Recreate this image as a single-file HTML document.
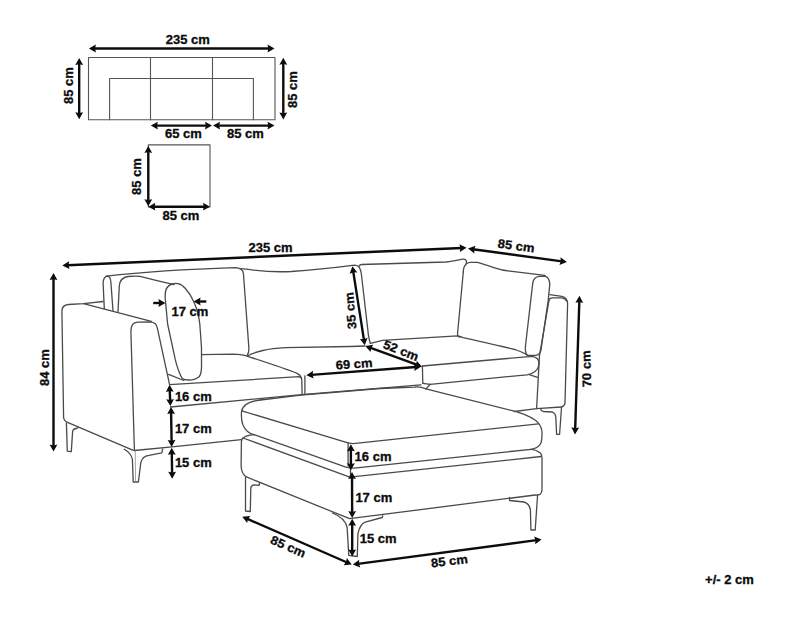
<!DOCTYPE html><html><head><meta charset="utf-8"><style>
html,body{margin:0;padding:0;background:#fff;}
svg{display:block;}
text{stroke:#0c0c0c;stroke-width:0.3px;font-family:"Liberation Sans",sans-serif;font-weight:bold;fill:#0c0c0c;}
</style></head><body>
<svg width="790" height="619" viewBox="0 0 790 619">
<path d="M88.5 57.5 H275 V119.8 H88.5 Z" fill="none" stroke="#555" stroke-width="1.1" stroke-linecap="round" stroke-linejoin="round"/>
<path d="M150.5 57.5 V119.8 M212.5 57.5 V119.8" fill="none" stroke="#555" stroke-width="1.1" stroke-linecap="round" stroke-linejoin="round"/>
<path d="M109.6 119.8 V78.5 H253.4 V119.8" fill="none" stroke="#555" stroke-width="1.1" stroke-linecap="round" stroke-linejoin="round"/>
<line x1="93.90" y1="48.50" x2="269.50" y2="48.50" stroke="#0c0c0c" stroke-width="2.4"/>
<polygon points="274.50,48.50 267.50,52.40 268.30,48.50 267.50,44.60" fill="#0c0c0c"/>
<polygon points="88.90,48.50 95.90,44.60 95.10,48.50 95.90,52.40" fill="#0c0c0c"/>
<text x="187.8" y="43.9" text-anchor="middle" font-size="12.40" textLength="44.08" lengthAdjust="spacingAndGlyphs">235 cm</text>
<line x1="79.20" y1="63.00" x2="79.20" y2="114.30" stroke="#0c0c0c" stroke-width="2.4"/>
<polygon points="79.20,119.30 75.30,112.30 79.20,113.10 83.10,112.30" fill="#0c0c0c"/>
<polygon points="79.20,58.00 83.10,65.00 79.20,64.20 75.30,65.00" fill="#0c0c0c"/>
<text x="72.9" y="85.6" text-anchor="middle" font-size="12.40" textLength="36.85" lengthAdjust="spacingAndGlyphs" transform="rotate(-90 72.9 85.6)">85 cm</text>
<line x1="283.30" y1="62.70" x2="283.30" y2="114.40" stroke="#0c0c0c" stroke-width="2.4"/>
<polygon points="283.30,119.40 279.40,112.40 283.30,113.20 287.20,112.40" fill="#0c0c0c"/>
<polygon points="283.30,57.70 287.20,64.70 283.30,63.90 279.40,64.70" fill="#0c0c0c"/>
<text x="297.1" y="89.6" text-anchor="middle" font-size="12.40" textLength="36.85" lengthAdjust="spacingAndGlyphs" transform="rotate(-90 297.1 89.6)">85 cm</text>
<line x1="155.80" y1="125.60" x2="207.00" y2="125.60" stroke="#0c0c0c" stroke-width="2.4"/>
<polygon points="212.00,125.60 205.00,129.50 205.80,125.60 205.00,121.70" fill="#0c0c0c"/>
<polygon points="150.80,125.60 157.80,121.70 157.00,125.60 157.80,129.50" fill="#0c0c0c"/>
<text x="183.5" y="137.7" text-anchor="middle" font-size="12.40" textLength="36.85" lengthAdjust="spacingAndGlyphs">65 cm</text>
<line x1="218.00" y1="125.60" x2="269.50" y2="125.60" stroke="#0c0c0c" stroke-width="2.4"/>
<polygon points="274.50,125.60 267.50,129.50 268.30,125.60 267.50,121.70" fill="#0c0c0c"/>
<polygon points="213.00,125.60 220.00,121.70 219.20,125.60 220.00,129.50" fill="#0c0c0c"/>
<text x="245.4" y="137.9" text-anchor="middle" font-size="12.40" textLength="36.85" lengthAdjust="spacingAndGlyphs">85 cm</text>
<path d="M148.3 144.9 H210 V207 H148.3 Z" fill="none" stroke="#555" stroke-width="1.1" stroke-linecap="round" stroke-linejoin="round"/>
<line x1="148.30" y1="150.90" x2="148.30" y2="201.20" stroke="#0c0c0c" stroke-width="2.4"/>
<polygon points="148.30,206.20 144.40,199.20 148.30,200.00 152.20,199.20" fill="#0c0c0c"/>
<polygon points="148.30,145.90 152.20,152.90 148.30,152.10 144.40,152.90" fill="#0c0c0c"/>
<text x="141.3" y="176.5" text-anchor="middle" font-size="12.40" textLength="36.85" lengthAdjust="spacingAndGlyphs" transform="rotate(-90 141.3 176.5)">85 cm</text>
<line x1="153.30" y1="206.70" x2="205.00" y2="206.70" stroke="#0c0c0c" stroke-width="2.4"/>
<polygon points="210.00,206.70 203.00,210.60 203.80,206.70 203.00,202.80" fill="#0c0c0c"/>
<polygon points="148.30,206.70 155.30,202.80 154.50,206.70 155.30,210.60" fill="#0c0c0c"/>
<text x="180.9" y="220" text-anchor="middle" font-size="12.40" textLength="36.85" lengthAdjust="spacingAndGlyphs">85 cm</text>
<line x1="67.30" y1="265.18" x2="461.60" y2="248.02" stroke="#0c0c0c" stroke-width="2.4"/>
<polygon points="466.60,247.80 459.78,252.00 460.41,248.07 459.44,244.21" fill="#0c0c0c"/>
<polygon points="62.30,265.40 69.12,261.20 68.49,265.13 69.46,268.99" fill="#0c0c0c"/>
<text x="270.5" y="252.2" text-anchor="middle" font-size="12.40" textLength="44.08" lengthAdjust="spacingAndGlyphs">235 cm</text>
<line x1="472.95" y1="249.27" x2="561.95" y2="261.33" stroke="#0c0c0c" stroke-width="2.4"/>
<polygon points="566.90,262.00 559.44,264.92 560.76,261.17 560.49,257.20" fill="#0c0c0c"/>
<polygon points="468.00,248.60 475.46,245.68 474.14,249.43 474.41,253.40" fill="#0c0c0c"/>
<text x="515.6" y="250.1" text-anchor="middle" font-size="12.40" textLength="36.85" lengthAdjust="spacingAndGlyphs" transform="rotate(7.7 515.6 250.1)">85 cm</text>
<line x1="53.50" y1="278.10" x2="53.50" y2="446.60" stroke="#0c0c0c" stroke-width="2.4"/>
<polygon points="53.50,451.60 49.60,444.60 53.50,445.40 57.40,444.60" fill="#0c0c0c"/>
<polygon points="53.50,273.10 57.40,280.10 53.50,279.30 49.60,280.10" fill="#0c0c0c"/>
<text x="48.8" y="367.6" text-anchor="middle" font-size="12.40" textLength="36.85" lengthAdjust="spacingAndGlyphs" transform="rotate(-90 48.8 367.6)">84 cm</text>
<line x1="579.34" y1="300.80" x2="575.16" y2="429.40" stroke="#0c0c0c" stroke-width="2.4"/>
<polygon points="575.00,434.40 571.33,427.28 575.20,428.20 579.13,427.53" fill="#0c0c0c"/>
<polygon points="579.50,295.80 583.17,302.92 579.30,302.00 575.37,302.67" fill="#0c0c0c"/>
<text x="590.7" y="368.7" text-anchor="middle" font-size="12.40" textLength="36.85" lengthAdjust="spacingAndGlyphs" transform="rotate(-92 590.7 368.7)">70 cm</text>
<path d="M103.1 301.5 L83.5 303.6 L68.4 304.5 Q62 305 61.9 311 L63.6 417.5 Q64 421 67.5 422.3 L133.3 450.3" fill="none" stroke="#4a4a4a" stroke-width="1.3" stroke-linecap="round" stroke-linejoin="round"/>
<path d="M83.5 303.6 L151.4 321.3" fill="none" stroke="#4a4a4a" stroke-width="1.3" stroke-linecap="round" stroke-linejoin="round"/>
<path d="M134.4 450.5 L130.9 331 Q131 322.6 137.5 322.2 L150.4 321.9 Q156.5 322.5 157.4 328.3 L169.6 384.6" fill="none" stroke="#4a4a4a" stroke-width="1.3" stroke-linecap="round" stroke-linejoin="round"/>
<path d="M134.4 450.5 L172 446.8 L241.4 439.6" fill="none" stroke="#4a4a4a" stroke-width="1.3" stroke-linecap="round" stroke-linejoin="round"/>
<path d="M66.4 422.8 L67.3 451.2 L71.3 451.6 L72.6 431.6 Q73 428.8 76.6 428.5 L78 427.6" fill="none" stroke="#4a4a4a" stroke-width="1.3" stroke-linecap="round" stroke-linejoin="round"/>
<path d="M124.3 449.3 Q131 453 132.4 459.4 L133.2 482 L138.4 482 L140.8 462.6 Q142.5 456 148.9 455.3 L161.8 452.9 L162.7 448.9" fill="none" stroke="#4a4a4a" stroke-width="1.3" stroke-linecap="round" stroke-linejoin="round"/>
<path d="M135.3 451 L135.5 481.5" fill="none" stroke="#999" stroke-width="0.9" stroke-linecap="round" stroke-linejoin="round"/>
<path d="M104.3 308.6 L103.1 283 Q103.5 276.5 107.5 276.2 Q110.5 276.5 110.9 282.3 L113 311" fill="none" stroke="#4a4a4a" stroke-width="1.3" stroke-linecap="round" stroke-linejoin="round"/>
<path d="M106.1 276.2 Q160 270 235.3 267.7 Q242.5 268 243.4 273.2 L248.9 348.4 Q249 353 247 355.6" fill="none" stroke="#4a4a4a" stroke-width="1.3" stroke-linecap="round" stroke-linejoin="round"/>
<path d="M118 311.6 L119.3 286 Q120 277.5 128 276.5 Q135 275.8 140 276.3 L157 280.6 L174 284.6" fill="none" stroke="#4a4a4a" stroke-width="1.3" stroke-linecap="round" stroke-linejoin="round"/>
<path d="M165.1 297 Q164.8 286 172 284 Q175 283.2 178 283.6 Q182 284.3 185.4 288.5 Q190.5 294 193.9 302 Q198.5 312 199.8 324 L201.5 347.8 L201.5 368.1 Q201 376 198.1 377.5 Q194 380.5 188.8 380 Q184 380 182 378.3 Q178 371 175.3 359.7 L167.6 324 Z" fill="none" stroke="#4a4a4a" stroke-width="1.3" stroke-linecap="round" stroke-linejoin="round"/>
<path d="M240.8 268.7 Q246 269 250.4 269.7 C260 271 270 272.5 291.3 271.5 Q320 269.5 354.7 265.1 Q357.5 265.2 359.2 267.2 Q360.6 269.5 361.3 273.5 L368.5 335.6 Q369.5 341 370.4 343.4" fill="none" stroke="#4a4a4a" stroke-width="1.3" stroke-linecap="round" stroke-linejoin="round"/>
<path d="M358.7 266.6 Q359.5 264.6 361.5 264.5 Q420 262.8 446 262 Q456 261 462.5 259.2 Q466.3 258.6 466.6 262 Q466.5 264.5 464.4 266.2 Q463.4 268.5 463.3 272" fill="none" stroke="#4a4a4a" stroke-width="1.3" stroke-linecap="round" stroke-linejoin="round"/>
<path d="M463.3 272 L457.5 334 Q458 337 459.9 337.2" fill="none" stroke="#4a4a4a" stroke-width="1.3" stroke-linecap="round" stroke-linejoin="round"/>
<path d="M466.4 263.6 Q468.5 262.4 470.5 262.3 L477.3 262.4 Q482 263.5 494.6 267.8 Q502 270.3 510 271.2 L544.9 275.3" fill="none" stroke="#4a4a4a" stroke-width="1.3" stroke-linecap="round" stroke-linejoin="round"/>
<path d="M532.8 282.6 Q534 277 539 276.3 L544.9 276.1 Q549.5 277.5 549.8 284 L548.2 300.4 L540.9 350.5 Q539.5 355 536 355.4 L527.1 355.4 Q524.8 352 525.5 345.7 Z" fill="none" stroke="#4a4a4a" stroke-width="1.3" stroke-linecap="round" stroke-linejoin="round"/>
<path d="M549.8 294.7 L561.9 296.3 Q567.5 297.5 567.6 303.6 L565 403 Q564.5 406.5 561.5 407" fill="none" stroke="#4a4a4a" stroke-width="1.3" stroke-linecap="round" stroke-linejoin="round"/>
<path d="M549 300.4 Q549.5 297.9 552.2 297.9 L561.9 297.9 Q565.5 298.5 566.5 301" fill="none" stroke="#4a4a4a" stroke-width="1.3" stroke-linecap="round" stroke-linejoin="round"/>
<path d="M549 300.4 L539.5 355.4 L536.6 408.7" fill="none" stroke="#4a4a4a" stroke-width="1.3" stroke-linecap="round" stroke-linejoin="round"/>
<path d="M514.4 411.5 L536.6 408.7 L561.5 407" fill="none" stroke="#4a4a4a" stroke-width="1.3" stroke-linecap="round" stroke-linejoin="round"/>
<path d="M540.7 409.1 Q541 411.2 543.5 411.5 L552.5 412 Q555.5 413.5 555.8 417 L556.6 434.3 L559.6 434.3 L561.5 407.5" fill="none" stroke="#4a4a4a" stroke-width="1.3" stroke-linecap="round" stroke-linejoin="round"/>
<path d="M168.6 374.4 L183.8 380.5" fill="none" stroke="#4a4a4a" stroke-width="1.3" stroke-linecap="round" stroke-linejoin="round"/>
<path d="M201.5 354.7 L232.9 354.2 Q243 354.5 249.1 356.8 C262 361 285 368.5 297 373.3 Q301.5 375.5 301.8 380 L302.1 394.5" fill="none" stroke="#4a4a4a" stroke-width="1.3" stroke-linecap="round" stroke-linejoin="round"/>
<path d="M169.6 384.6 L299.2 376.7 L301.3 377.8" fill="none" stroke="#4a4a4a" stroke-width="1.3" stroke-linecap="round" stroke-linejoin="round"/>
<path d="M170.4 407 L301.4 394.7 L421 384.9" fill="none" stroke="#4a4a4a" stroke-width="1.3" stroke-linecap="round" stroke-linejoin="round"/>
<path d="M304.9 375.8 L304.9 394.2" fill="none" stroke="#4a4a4a" stroke-width="1.3" stroke-linecap="round" stroke-linejoin="round"/>
<path d="M247.5 356 Q252 353 262.8 350.5 Q272 348.5 285.6 347.7 L350 346.5 L365 346" fill="none" stroke="#4a4a4a" stroke-width="1.3" stroke-linecap="round" stroke-linejoin="round"/>
<path d="M370.4 343.4 L382.5 340.4 L457.4 335.9 Q461 336.5 463 337.6 Q505 347 515 349.5 Q521 351.5 527 354.6" fill="none" stroke="#4a4a4a" stroke-width="1.3" stroke-linecap="round" stroke-linejoin="round"/>
<path d="M422.4 366 L422.8 383.3" fill="none" stroke="#4a4a4a" stroke-width="1.3" stroke-linecap="round" stroke-linejoin="round"/>
<path d="M422.4 366 L532.3 356.3 Q538.6 357.5 538.9 362.5 Q538.8 369 535 371.5 Q532 374 527 374.8 L430.2 384.3 L422.8 383.3" fill="none" stroke="#4a4a4a" stroke-width="1.3" stroke-linecap="round" stroke-linejoin="round"/>
<path d="M426 388.9 L430.2 384.3" fill="none" stroke="#4a4a4a" stroke-width="1.3" stroke-linecap="round" stroke-linejoin="round"/>
<path d="M529.2 374.6 L537.6 377.3" fill="none" stroke="#4a4a4a" stroke-width="1.3" stroke-linecap="round" stroke-linejoin="round"/>
<path d="M260.4 400 L301 395.2 L380 388.5 L415 387 Q421 386.6 426 388.9 L516.3 411.7 Q533 417 538.4 423.1 Q542.5 428 542 434.7 Q541.8 443 539.8 444.9 Q537 448.5 531.1 449.3" fill="none" stroke="#4a4a4a" stroke-width="1.3" stroke-linecap="round" stroke-linejoin="round"/>
<path d="M260.4 400 Q242.5 402 241.5 412 Q240.5 426 247.6 431.5 Q250.5 434 254.1 434.7" fill="none" stroke="#4a4a4a" stroke-width="1.3" stroke-linecap="round" stroke-linejoin="round"/>
<path d="M241.8 410.8 L345.5 442.2 Q349 443.4 353.2 443.6 L538.4 423.8" fill="none" stroke="#4a4a4a" stroke-width="1.3" stroke-linecap="round" stroke-linejoin="round"/>
<path d="M348.1 443 L348.1 466" fill="none" stroke="#4a4a4a" stroke-width="1.3" stroke-linecap="round" stroke-linejoin="round"/>
<path d="M254.1 434.7 L345.2 466.8 Q349 468.2 354.3 468.2 L531.1 449.3" fill="none" stroke="#4a4a4a" stroke-width="1.3" stroke-linecap="round" stroke-linejoin="round"/>
<path d="M254.1 434.7 Q245.7 435.4 242.5 438.5 Q241.4 440 241.4 442 L241.1 466 Q241.5 474.5 247 477.2 L349.6 518.7 L535.2 495 Q538.4 495.5 540.5 494 Q542 492.5 542 489 L542 458 Q541.5 453 539.1 452.2 Q536 449.6 531.1 449.3" fill="none" stroke="#4a4a4a" stroke-width="1.3" stroke-linecap="round" stroke-linejoin="round"/>
<path d="M243.1 438 L349.8 477.2 L541.3 456.5" fill="none" stroke="#4a4a4a" stroke-width="1.3" stroke-linecap="round" stroke-linejoin="round"/>
<path d="M350.5 468 L350.5 477" fill="none" stroke="#4a4a4a" stroke-width="1.3" stroke-linecap="round" stroke-linejoin="round"/>
<path d="M245.5 477.5 L245.5 511 L250.3 511.5 L250.8 488 Q251.5 485 254 484.9 L259.1 485.3 L259.6 482.9" fill="none" stroke="#4a4a4a" stroke-width="1.3" stroke-linecap="round" stroke-linejoin="round"/>
<path d="M332.4 513 Q345 518 347.1 527.1 L348.8 555.4 L357.3 556.5 L357.9 533.9 Q360 524 365.2 522.1 L382.2 517.5 L382.8 515.8" fill="none" stroke="#4a4a4a" stroke-width="1.3" stroke-linecap="round" stroke-linejoin="round"/>
<path d="M509.5 497.3 L509.6 500.5 L524.1 502 Q529.5 503.5 530.4 510.2 L530.9 530 L535.2 530 L537.6 494.7" fill="none" stroke="#4a4a4a" stroke-width="1.3" stroke-linecap="round" stroke-linejoin="round"/>
<line x1="169.71" y1="389.80" x2="170.19" y2="401.10" stroke="#0c0c0c" stroke-width="2.4"/>
<polygon points="170.40,406.10 166.21,399.27 170.14,399.91 174.00,398.94" fill="#0c0c0c"/>
<polygon points="169.50,384.80 173.69,391.63 169.76,390.99 165.90,391.96" fill="#0c0c0c"/>
<text x="174.9" y="400.8" text-anchor="start" font-size="12.40" textLength="36.85" lengthAdjust="spacingAndGlyphs">16 cm</text>
<line x1="171.09" y1="412.00" x2="171.61" y2="441.90" stroke="#0c0c0c" stroke-width="2.4"/>
<polygon points="171.70,446.90 167.68,439.97 171.59,440.70 175.48,439.83" fill="#0c0c0c"/>
<polygon points="171.00,407.00 175.02,413.93 171.11,413.20 167.22,414.07" fill="#0c0c0c"/>
<text x="174.9" y="432.7" text-anchor="start" font-size="12.40" textLength="36.85" lengthAdjust="spacingAndGlyphs">17 cm</text>
<line x1="171.78" y1="452.80" x2="172.12" y2="473.80" stroke="#0c0c0c" stroke-width="2.4"/>
<polygon points="172.20,478.80 168.19,471.86 172.10,472.60 175.99,471.74" fill="#0c0c0c"/>
<polygon points="171.70,447.80 175.71,454.74 171.80,454.00 167.91,454.86" fill="#0c0c0c"/>
<text x="174.9" y="467.4" text-anchor="start" font-size="12.40" textLength="36.85" lengthAdjust="spacingAndGlyphs">15 cm</text>
<line x1="353.17" y1="271.14" x2="364.03" y2="340.36" stroke="#0c0c0c" stroke-width="2.4"/>
<polygon points="364.80,345.30 359.86,338.99 363.84,339.17 367.57,337.78" fill="#0c0c0c"/>
<polygon points="352.40,266.20 357.34,272.51 353.36,272.33 349.63,273.72" fill="#0c0c0c"/>
<text x="354.8" y="310.4" text-anchor="middle" font-size="12.40" textLength="36.85" lengthAdjust="spacingAndGlyphs" transform="rotate(-95 354.8 310.4)">35 cm</text>
<line x1="370.00" y1="347.71" x2="417.30" y2="364.99" stroke="#0c0c0c" stroke-width="2.4"/>
<polygon points="422.00,366.70 414.09,367.96 416.18,364.57 416.76,360.64" fill="#0c0c0c"/>
<polygon points="365.30,346.00 373.21,344.74 371.12,348.13 370.54,352.06" fill="#0c0c0c"/>
<text x="399.5" y="354.5" text-anchor="middle" font-size="12.40" textLength="36.85" lengthAdjust="spacingAndGlyphs" transform="rotate(21.6 399.5 354.5)">52 cm</text>
<line x1="311.39" y1="374.83" x2="416.01" y2="367.07" stroke="#0c0c0c" stroke-width="2.4"/>
<polygon points="421.00,366.70 414.31,371.11 414.82,367.16 413.73,363.33" fill="#0c0c0c"/>
<polygon points="306.40,375.20 313.09,370.79 312.58,374.74 313.67,378.57" fill="#0c0c0c"/>
<text x="354.5" y="368.2" text-anchor="middle" font-size="12.40" textLength="36.85" lengthAdjust="spacingAndGlyphs" transform="rotate(-4 354.5 368.2)">69 cm</text>
<line x1="153.20" y1="303.00" x2="160.40" y2="303.00" stroke="#0c0c0c" stroke-width="2.4"/>
<polygon points="165.40,303.00 158.40,306.90 159.20,303.00 158.40,299.10" fill="#0c0c0c"/>
<line x1="206.30" y1="301.50" x2="198.60" y2="301.50" stroke="#0c0c0c" stroke-width="2.4"/>
<polygon points="193.60,301.50 200.60,297.60 199.80,301.50 200.60,305.40" fill="#0c0c0c"/>
<text x="190" y="316.4" text-anchor="middle" font-size="12.40" textLength="36.85" lengthAdjust="spacingAndGlyphs">17 cm</text>
<line x1="350.90" y1="449.30" x2="350.90" y2="465.30" stroke="#0c0c0c" stroke-width="2.4"/>
<polygon points="350.90,470.30 347.00,463.30 350.90,464.10 354.80,463.30" fill="#0c0c0c"/>
<polygon points="350.90,444.30 354.80,451.30 350.90,450.50 347.00,451.30" fill="#0c0c0c"/>
<text x="354.6" y="460.6" text-anchor="start" font-size="12.40" textLength="36.85" lengthAdjust="spacingAndGlyphs">16 cm</text>
<line x1="352.02" y1="477.00" x2="352.18" y2="513.10" stroke="#0c0c0c" stroke-width="2.4"/>
<polygon points="352.20,518.10 348.27,511.12 352.17,511.90 356.07,511.08" fill="#0c0c0c"/>
<polygon points="352.00,472.00 355.93,478.98 352.03,478.20 348.13,479.02" fill="#0c0c0c"/>
<text x="355.4" y="502" text-anchor="start" font-size="12.40" textLength="36.85" lengthAdjust="spacingAndGlyphs">17 cm</text>
<line x1="352.20" y1="523.70" x2="352.20" y2="551.50" stroke="#0c0c0c" stroke-width="2.4"/>
<polygon points="352.20,556.50 348.30,549.50 352.20,550.30 356.10,549.50" fill="#0c0c0c"/>
<polygon points="352.20,518.70 356.10,525.70 352.20,524.90 348.30,525.70" fill="#0c0c0c"/>
<text x="359.8" y="543.2" text-anchor="start" font-size="12.40" textLength="36.85" lengthAdjust="spacingAndGlyphs">15 cm</text>
<line x1="246.88" y1="518.70" x2="347.12" y2="562.50" stroke="#0c0c0c" stroke-width="2.4"/>
<polygon points="351.70,564.50 343.72,565.27 346.02,562.02 346.85,558.12" fill="#0c0c0c"/>
<polygon points="242.30,516.70 250.28,515.93 247.98,519.18 247.15,523.08" fill="#0c0c0c"/>
<text x="286.5" y="550.5" text-anchor="middle" font-size="12.40" textLength="36.85" lengthAdjust="spacingAndGlyphs" transform="rotate(23.6 286.5 550.5)">85 cm</text>
<line x1="357.76" y1="563.84" x2="536.64" y2="540.16" stroke="#0c0c0c" stroke-width="2.4"/>
<polygon points="541.60,539.50 535.17,544.29 535.45,540.31 534.15,536.55" fill="#0c0c0c"/>
<polygon points="352.80,564.50 359.23,559.71 358.95,563.69 360.25,567.45" fill="#0c0c0c"/>
<text x="449.9" y="565.3" text-anchor="middle" font-size="12.40" textLength="36.85" lengthAdjust="spacingAndGlyphs" transform="rotate(-6.8 449.9 565.3)">85 cm</text>
<text x="729.5" y="583.9" text-anchor="middle" font-size="12.40" textLength="48.78" lengthAdjust="spacingAndGlyphs">+/- 2 cm</text>
</svg></body></html>
